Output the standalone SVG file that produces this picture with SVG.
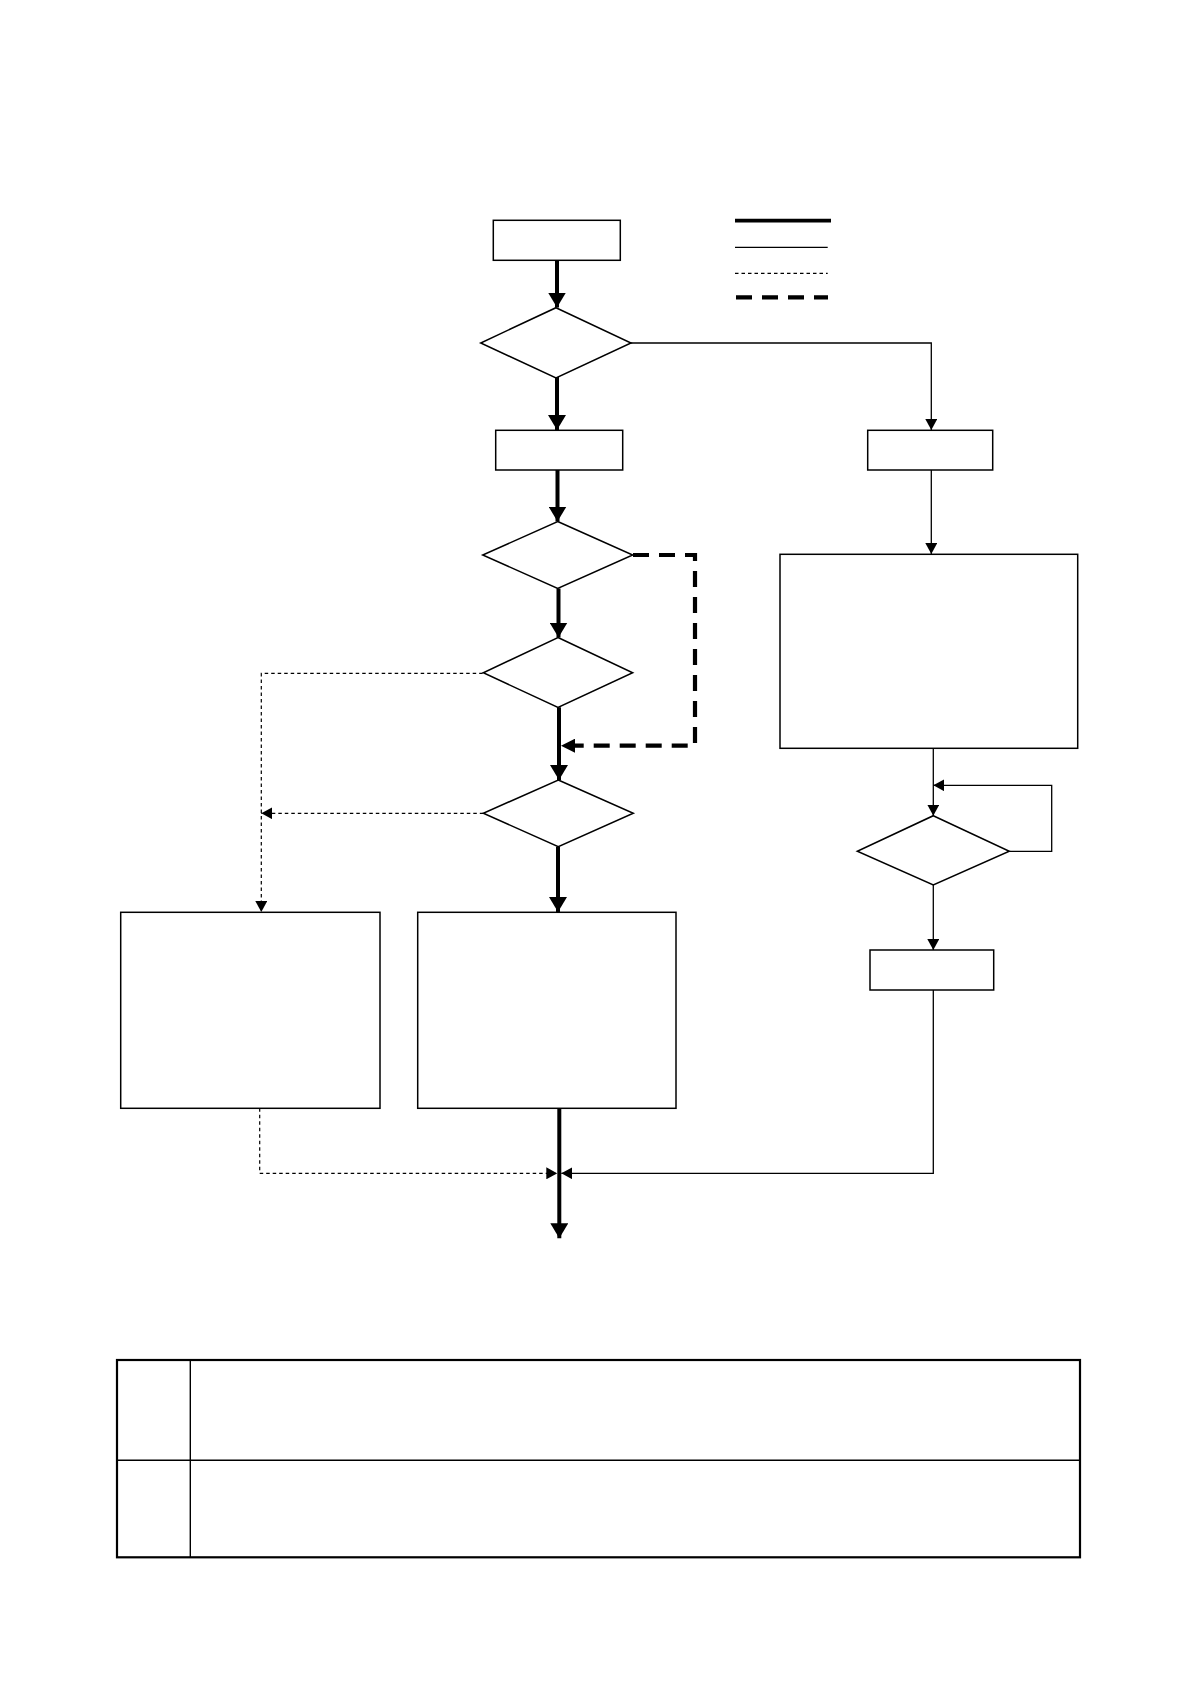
<svg xmlns="http://www.w3.org/2000/svg" width="1190" height="1682" viewBox="0 0 1190 1682">
<style>
.box{fill:#fff;stroke:#000;stroke-width:1.5}
.thick{fill:none;stroke:#000;stroke-width:4}
.thin{fill:none;stroke:#000;stroke-width:1.3}
.dot{fill:none;stroke:#000;stroke-width:1.2;stroke-dasharray:3.5,3}
.tdash{fill:none;stroke:#000;stroke-width:4.2;stroke-dasharray:16,10}
</style>
<defs>
<marker id="ahThick" markerUnits="userSpaceOnUse" markerWidth="15" markerHeight="18" refX="15" refY="9" orient="auto" viewBox="0 0 15 18"><path d="M0,0 L15,9 L0,18 z" fill="#000"/></marker>
<marker id="ahDash" markerUnits="userSpaceOnUse" markerWidth="14" markerHeight="14" refX="14" refY="7" orient="auto" viewBox="0 0 14 14"><path d="M0,0 L14,7 L0,14 z" fill="#000"/></marker>
<marker id="ahThin" markerUnits="userSpaceOnUse" markerWidth="11" markerHeight="12" refX="11" refY="6" orient="auto" viewBox="0 0 11 12"><path d="M0,0 L11,6 L0,12 z" fill="#000"/></marker>
</defs>
<rect width="1190" height="1682" fill="#fff"/>

<g id="connectors">
<path class="thick" d="M557,260 L557,307.5" marker-end="url(#ahThick)"/>
<path class="thick" d="M557,376 L557,430" marker-end="url(#ahThick)"/>
<path class="thick" d="M557.5,470 L557.5,521.5" marker-end="url(#ahThick)"/>
<path class="thick" d="M558.5,588.5 L558.5,637.5" marker-end="url(#ahThick)"/>
<path class="thick" d="M559,707.3 L559,780" marker-end="url(#ahThick)"/>
<path class="thick" d="M558,846.7 L558,912" marker-end="url(#ahThick)"/>
<path class="thick" d="M559.3,1108.3 L559.3,1238.3" marker-end="url(#ahThick)"/>
<path class="tdash" d="M633,555 L695,555 L695,745.7 L561,745.7" marker-end="url(#ahDash)"/>
<path class="thin" d="M631,343 L931.3,343 L931.3,430" marker-end="url(#ahThin)"/>
<path class="thin" d="M931.3,470 L931.3,554" marker-end="url(#ahThin)"/>
<path class="thin" d="M933.3,748.3 L933.3,815.7" marker-end="url(#ahThin)"/>
<path class="thin" d="M1009.3,851.3 L1051.7,851.3 L1051.7,785.3 L933.3,785.3" marker-end="url(#ahThin)"/>
<path class="thin" d="M933.3,885 L933.3,950" marker-end="url(#ahThin)"/>
<path class="thin" d="M933.3,990 L933.3,1173.3 L561.3,1173.3" marker-end="url(#ahThin)"/>
<path class="dot" d="M482.7,673.3 L261.3,673.3 L261.3,912" marker-end="url(#ahThin)"/>
<path class="dot" d="M483.3,813.3 L261.3,813.3" marker-end="url(#ahThin)"/>
<path class="dot" d="M259.7,1108.3 L259.7,1173.3 L557.3,1173.3" marker-end="url(#ahThin)"/>
</g>

<g id="legend">
<line x1="735" y1="220.7" x2="831" y2="220.7" stroke="#000" stroke-width="3.8"/>
<line x1="735" y1="247.3" x2="827.7" y2="247.3" stroke="#000" stroke-width="1.3"/>
<line x1="735" y1="273.3" x2="827.7" y2="273.3" stroke="#000" stroke-width="1.2" stroke-dasharray="3.5,3"/>
<line x1="736" y1="297.3" x2="828" y2="297.3" stroke="#000" stroke-width="4.2" stroke-dasharray="16,10"/>
</g>

<g id="start"><rect class="box" x="493.3" y="220.3" width="127" height="40"/></g>
<g id="decision1"><polygon class="box" points="556,307.7 631,343 556,378 480.7,343"/></g>
<g id="process2"><rect class="box" x="495.7" y="430.3" width="127" height="39.7"/></g>
<g id="decision2"><polygon class="box" points="557.7,521.5 632.7,555 557.7,588.5 482.7,555"/></g>
<g id="decision3"><polygon class="box" points="558,637.5 632.7,672.7 558,707.5 483.3,672.7"/></g>
<g id="decision4"><polygon class="box" points="558.3,780 633.3,813.3 558.3,846.7 483.3,813.3"/></g>
<g id="boxLeft"><rect class="box" x="120.7" y="912.3" width="259.3" height="196"/></g>
<g id="boxCenter"><rect class="box" x="417.7" y="912.3" width="258.3" height="196"/></g>
<g id="boxRight1"><rect class="box" x="867.7" y="430.3" width="125" height="39.7"/></g>
<g id="boxRightBig"><rect class="box" x="780" y="554.3" width="297.7" height="194"/></g>
<g id="decisionRight"><polygon class="box" points="933.3,815.7 1009.3,851.3 933.3,885 857.3,851.3"/></g>
<g id="boxRight2"><rect class="box" x="870" y="950" width="123.7" height="40"/></g>

<g id="table">
<rect x="117" y="1360" width="963" height="197.3" fill="none" stroke="#000" stroke-width="2.2"/>
<line x1="190.3" y1="1360" x2="190.3" y2="1557.3" stroke="#000" stroke-width="1.4"/>
<line x1="117" y1="1460.3" x2="1080" y2="1460.3" stroke="#000" stroke-width="1.4"/>
</g>
</svg>
